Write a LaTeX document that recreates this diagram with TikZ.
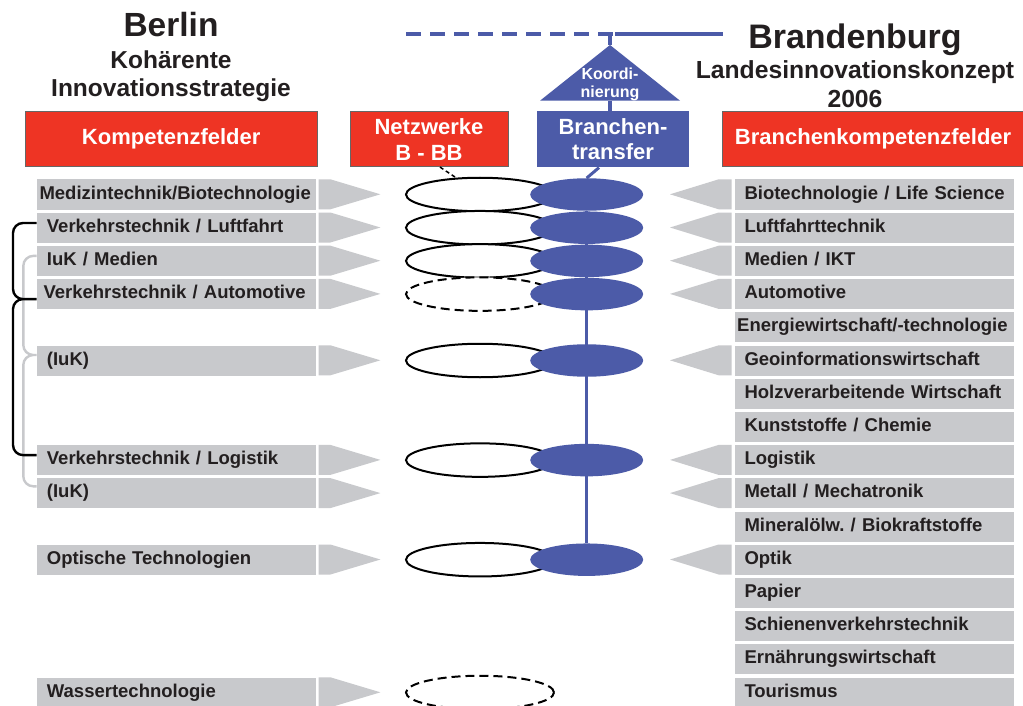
\documentclass[tikz,border=0pt]{standalone}
\usepackage{fontspec}
\setmainfont{Liberation Sans}
\usetikzlibrary{shapes.geometric}
\definecolor{bbred}{RGB}{238,52,36}
\definecolor{bbblue}{RGB}{76,91,168}
\definecolor{bbgray}{RGB}{200,201,204}
\definecolor{bbtext}{RGB}{35,31,32}
\frenchspacing
\tikzset{
  redbox/.style={fill=bbred, draw=black!60, line width=0.8pt, text=white, align=center, inner sep=0pt,
    font=\bfseries\fontsize{22}{25.7}\selectfont},
  lbar/.style={fill=bbgray, anchor=west, minimum height=30pt, inner ysep=0pt, inner xsep=10pt,
    text width=259pt, text height=13pt, text depth=4pt, align=left, text=bbtext,
    font=\bfseries\fontsize{18.5}{22}\selectfont},
  net/.style={ellipse, draw=black, line width=2pt, fill=white, minimum width=148pt, minimum height=33.5pt, inner sep=0pt},
  hub/.style={ellipse, fill=bbblue, minimum width=113pt, minimum height=32.5pt, inner sep=0pt},
  grouping/.style={line width=2.4pt, rounded corners=10pt},
  link/.style={bbblue, line width=3.5pt}
}
\begin{document}
\frenchspacing
\begin{tikzpicture}[x=1pt,y=-1pt]
  \path[use as bounding box, fill=white] (0,0) rectangle (1023,706);

  \node[font=\bfseries\fontsize{33.5}{36}\selectfont, text=bbtext] (berlin) at (171,24.7) {Berlin};
  \node[font=\bfseries\fontsize{24.5}{28.4}\selectfont, text=bbtext, align=center] (bstrat) at (171,76.4) {Kohärente\\Innovationsstrategie};
  \node[font=\bfseries\fontsize{34}{36}\selectfont, text=bbtext] (brand) at (855,39.6) {Brandenburg};
  \node[font=\bfseries\fontsize{24.7}{29}\selectfont, text=bbtext, align=center] (lik) at (855,84.3) {Landesinnovationskonzept\\2006};

  \node[redbox, minimum width=292pt, minimum height=55pt] (kf) at (171.2,139.2) {Kompetenzfelder};
  \node[redbox, minimum width=158pt, minimum height=55pt] (nw) at (429,139.2) {Netzwerke\\B - BB};
  \node[redbox, fill=bbblue, draw=none, minimum width=152pt, minimum height=56pt] (bt) at (613,139.2) {Branchen-\\transfer};
  \node[redbox, minimum width=302pt, minimum height=55pt, anchor=west] (bkf) at (721.7,139.2) {Branchenkompetenzfelder};

  \coordinate (dstart) at (406,34);
  \coordinate (jn) at (610,34);
  \coordinate (lend) at (723,34);
  \coordinate (apex) at (610,45);
  \coordinate (tbase) at (610,100.7);
  \fill[bbblue] (540,100.7) -- (apex) -- (680,100.7) -- cycle;
  \node[text=white, font=\bfseries\fontsize{16}{17.7}\selectfont, align=center] (koord) at (610,84.5) {Koordi-\\nierung};
  \draw[link, line width=4pt, dash pattern=on 14.7pt off 9.3pt] (dstart) -- ([xshift=2.7pt]jn);
  \draw[link, line width=4pt] ([xshift=5pt]jn) -- (lend);
  \draw[link] (jn) -- (apex);
  \draw[link] (tbase) -- (tbase |- bt.north);

  \node[lbar, inner xsep=2.6pt, text width=273.8pt] (l1) at (36.7,194.5) {\mbox{Medizintechnik/Biotechnologie}};
  \node[lbar, inner xsep=6.6pt, text width=265.8pt] (l4) at (36.7,294.1) {\mbox{Verkehrstechnik / Automotive}};
  \foreach \r/\t in {2/{Verkehrstechnik / Luftfahrt}, 3/{IuK / Medien}, 6/{(IuK)}, 9/{Verkehrstechnik / Logistik},
      10/{(IuK)}, 12/{Optische Technologien}, 16/{Wassertechnologie}}
    \node[lbar] (l\r) at (36.7,{194.5+33.2*(\r-1)}) {\mbox{\t}};

  \node[lbar, inner xsep=2.7pt, text width=273.6pt] (r5) at (734.3,327.3) {\mbox{Energiewirtschaft/-technologie}};
  \foreach \r/\t in {1/{Biotechnologie / Life Science}, 2/{Luftfahrttechnik}, 3/{Medien / IKT}, 4/{Automotive},
      6/{Geoinformationswirtschaft}, 7/{Holzverarbeitende Wirtschaft}, 8/{Kunststoffe / Chemie}, 9/{Logistik},
      10/{Metall / Mechatronik}, 11/{Mineralölw. / Biokraftstoffe}, 12/{Optik}, 13/{Papier},
      14/{Schienenverkehrstechnik}, 15/{Ernährungswirtschaft}, 16/{Tourismus}}
    \node[lbar] (r\r) at (734.3,{194.5+33.2*(\r-1)}) {\mbox{\t}};

  \foreach \r in {1,2,3,4,6,9,10,12,16}
    \fill[bbgray] ([xshift=2.6pt]l\r.north east) -- ++(11.7,0) -- ++(50,15) -- ++(-50,15) -- ++(-11.7,0) -- cycle;
  \foreach \r in {1,2,3,4,6,9,10,12}
    \fill[bbgray] ([xshift=-2.6pt]r\r.north west) -- ++(-13,0) -- ++(-48.7,15) -- ++(48.7,15) -- ++(13,0) -- cycle;

  \draw[grouping, bbgray] ([yshift=5pt]l3.west) -| ([xshift=-13.4pt,yshift=5.5pt]l6.west) -- ([yshift=5.5pt]l6.west)
    ([yshift=5.5pt]l6.west) -| ([xshift=-13.4pt,yshift=7pt]l10.west) -- ([yshift=7pt]l10.west);
  \draw[grouping] ([yshift=4.7pt]l2.west) -| ([xshift=-23.7pt,yshift=-5pt]l4.west) -- ([yshift=-5pt]l4.west)
    ([yshift=-5pt]l4.west) -| ([xshift=-23.7pt,yshift=5pt]l9.west) -- ([yshift=5pt]l9.west);

  \foreach \r in {1,2,3,6,9,12}
    \node[net] (n\r) at (480,{194.5+33.2*(\r-1)}) {};
  \foreach \r in {4,16}
    \node[net, dash pattern=on 9pt off 5pt] (n\r) at (480,{194.5+33.2*(\r-1)}) {};
  \draw[line width=1.5pt, dash pattern=on 4pt off 3pt] ([xshift=11pt]nw.south) -- (n1.145);

  \foreach \r in {1,2,3,4,6,9,12}
    \node[hub] (b\r) at (586.7,{194.5+33.2*(\r-1)}) {};
  \draw[link] (b1) -- (b12);
  \draw[link, line width=3pt] ([xshift=-14pt]bt.south) -- (b1.north);
\end{tikzpicture}
\end{document}
